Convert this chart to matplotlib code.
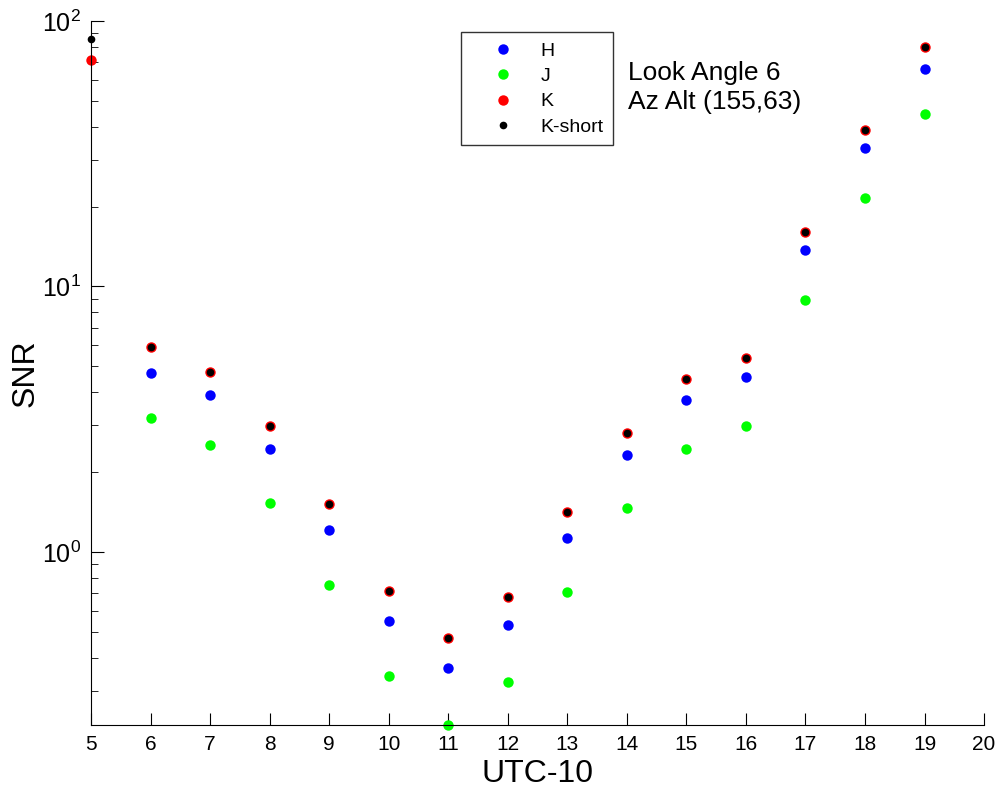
import numpy as np
import matplotlib.pyplot as plt

plt.rcParams['font.family'] = ['Liberation Sans', 'DejaVu Sans']
plt.rcParams['mathtext.fontset'] = 'custom'
plt.rcParams['mathtext.rm'] = 'Liberation Sans'
plt.rcParams['mathtext.it'] = 'Liberation Sans'

# hours (UTC-10)
hours = [6, 7, 8, 9, 10, 11, 12, 13, 14, 15, 16, 17, 18, 19]
hours_k = [5] + hours

snr_h = [4.72, 3.90, 2.44, 1.21, 0.55, 0.366, 0.531, 1.13, 2.32, 3.73, 4.56, 13.7, 33.2, 65.9]
snr_j = [3.20, 2.53, 1.53, 0.75, 0.341, 0.223, 0.324, 0.707, 1.46, 2.44, 2.98, 8.90, 21.5, 44.6]
snr_k = [71.3, 5.92, 4.76, 2.98, 1.52, 0.71, 0.474, 0.677, 1.41, 2.81, 4.48, 5.38, 16.0, 38.8, 79.8]
snr_ks = [85.5, 5.92, 4.76, 2.98, 1.52, 0.71, 0.474, 0.677, 1.41, 2.81, 4.48, 5.38, 16.0, 38.8, 79.8]

fig = plt.figure(figsize=(9.96, 7.88), dpi=100)
ax = fig.add_axes([0.0914, 0.080, 0.8966, 0.8934])

ax.plot(hours, snr_h, 'o', color='#0000ff', ms=7.5, mec='none', label='H', clip_on=False)
ax.plot(hours, snr_j, 'o', color='#00ff00', ms=7.5, mec='none', label='J', clip_on=False)
ax.plot(hours_k, snr_k, 'o', color='#ff0000', ms=7.5, mec='none', label='K', clip_on=False)
ax.plot(hours_k, snr_ks, 'o', color='black', ms=5.5, mec='none', label='K-short', clip_on=False)

ax.set_yscale('log')
ax.set_xlim(5, 20)
ax.set_ylim(0.223, 100)
ax.set_xticks(range(5, 21))
ax.set_yticks([1, 10, 100])
ax.set_yticklabels([r'$10^0$', r'$10^1$', r'$10^2$'])

ax.spines['top'].set_visible(False)
ax.spines['right'].set_visible(False)
ax.tick_params(axis='both', which='major', direction='in', length=9, labelsize=15)
ax.tick_params(axis='y', which='major', labelsize=18, pad=7)
ax.tick_params(axis='y', which='minor', direction='in', length=5)
ax.tick_params(axis='x', which='major', pad=7)

ax.set_xlabel('UTC-10', fontsize=23, labelpad=4)
ax.set_ylabel('SNR', fontsize=23)
ax.yaxis.set_label_coords(-0.057, 0.5)

leg = ax.legend(loc='upper left', bbox_to_anchor=(0.414, 0.984), fontsize=14,
                frameon=True, fancybox=False, handletextpad=0.3, borderpad=0.5,
                labelspacing=0.4, handlelength=3.3, borderaxespad=0)
leg.get_frame().set_edgecolor('black')
leg.get_frame().set_linewidth(1)

ax.text(0.601, 0.943, 'Look Angle 6\nAz Alt (155,63)', transform=ax.transAxes,
        fontsize=19, va='top', ha='left', linespacing=1.25)

fig.savefig('out.png', dpi=100)
